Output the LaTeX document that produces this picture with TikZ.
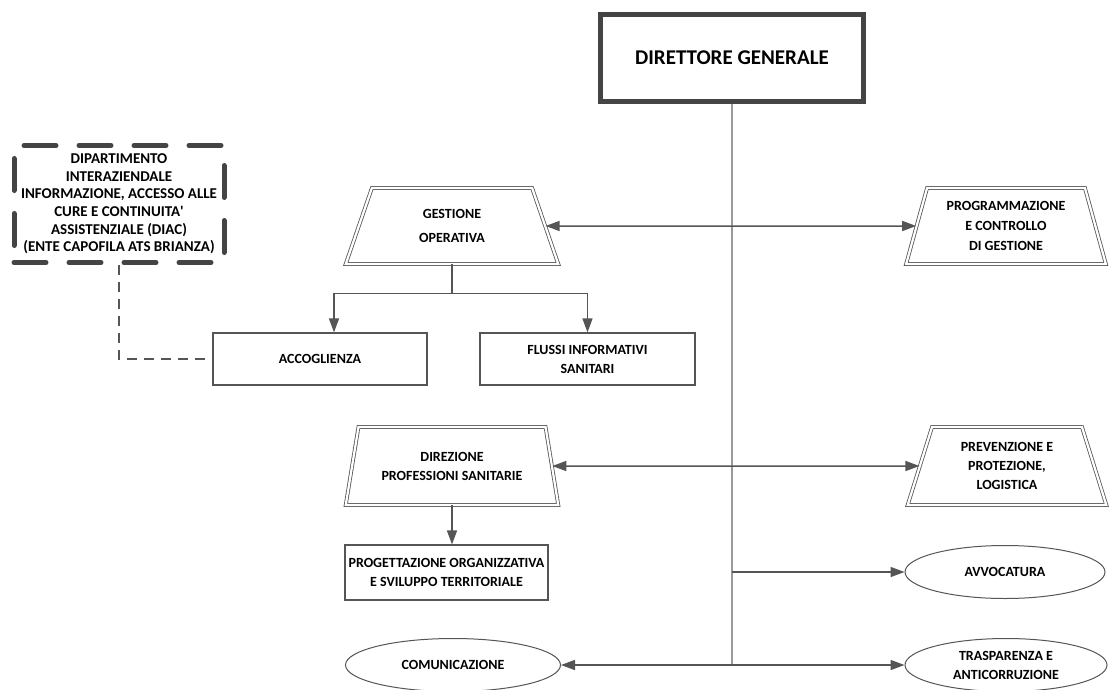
\documentclass[tikz,border=0pt]{standalone}
\usepackage{fontspec}
\setmainfont{Carlito}
\usepackage{tikz}
\usetikzlibrary{positioning}
\usetikzlibrary{arrows.meta}
\usetikzlibrary{shapes.geometric}
\usepackage{xcolor}
\definecolor{linegray}{HTML}{555555}
\definecolor{trunkgray}{HTML}{9A9A9A}
\definecolor{boxgray}{HTML}{444444}

\begin{document}
\begin{tikzpicture}[x=1pt, y=-1pt, every node/.style={font=\fontsize{14}{19}\selectfont\bfseries, align=center, inner sep=2pt}]
\tikzstyle{unit}=[draw=linegray, line width=1.2pt]
\tikzstyle{staff}=[trapezium, trapezium angle=73, trapezium stretches=true, draw=linegray, line width=0.8pt, double=white, double distance=2.2pt, minimum height=76pt]
\tikzstyle{office}=[ellipse, draw=linegray, line width=1pt, minimum height=53pt]
\tikzstyle{link}=[draw=linegray, line width=1.5pt, -{Triangle[length=14pt,width=10pt]}]
\tikzstyle{both}=[draw=linegray, line width=1.5pt, {Triangle[length=14pt,width=10pt]}-{Triangle[length=14pt,width=10pt]}]
\useasboundingbox (0,0) rectangle (1109,689);

\node[draw=boxgray, line width=5pt, minimum width=263pt, minimum height=87pt, font=\fontsize{21}{25}\selectfont\bfseries] (dg) at (732,58) {DIRETTORE GENERALE};
\node[draw=boxgray, line width=5pt, line cap=round, dash pattern=on 32pt off 23pt, minimum width=210pt, minimum height=117pt, inner sep=0pt, font=\fontsize{15}{17.6}\selectfont\bfseries] (diac) at (119,204)
  {DIPARTIMENTO\\INTERAZIENDALE\\INFORMAZIONE, ACCESSO ALLE\\CURE E CONTINUITA\textquotesingle\\ASSISTENZIALE (DIAC)\\(ENTE CAPOFILA ATS BRIANZA)};

\node[staff, minimum width=213pt] (gestop) at (452,226) {GESTIONE\\[5pt]OPERATIVA};
\node[staff, minimum width=200pt] (progctl) at (1006,226) {PROGRAMMAZIONE\\[1pt]E CONTROLLO\\[1pt]DI GESTIONE};
\node[unit, minimum width=214pt, minimum height=52pt] (accog) at (320,359) {ACCOGLIENZA};
\node[unit, minimum width=215pt, minimum height=52pt] (flussi) at (587.5,359) {FLUSSI INFORMATIVI\\SANITARI};
\node[staff, minimum width=213pt, minimum height=78pt] (dirprof) at (452,466) {DIREZIONE\\PROFESSIONI SANITARIE};
\node[staff, minimum width=199pt, minimum height=78pt] (prevlog) at (1007,466) {PREVENZIONE E\\PROTEZIONE,\\LOGISTICA};
\node[unit, minimum width=203pt, minimum height=55pt] (progorg) at (446.5,572.5) {PROGETTAZIONE ORGANIZZATIVA\\E SVILUPPO TERRITORIALE};
\node[office, minimum width=200pt] (avv) at (1005,572) {AVVOCATURA};
\node[office, minimum width=215pt] (comun) at (453,665) {COMUNICAZIONE};
\node[office, minimum width=202pt] (trasp) at (1006,665) {TRASPARENZA E\\ANTICORRUZIONE};

\draw[draw=trunkgray, line width=1.8pt] (dg.south) -- (dg.south |- comun.east);
\draw[both] (gestop.east) -- (progctl.west);
\draw[link] (gestop.south) -- ++(0,29) -| ([xshift=14pt]accog.north);
\draw[link] (gestop.south) ++(0,29) -| (flussi.north);
\draw[draw=linegray, line width=1.3pt, dash pattern=on 10pt off 7pt] (diac.south) |- (accog.west);
\draw[both] (dirprof.east) -- (prevlog.west);
\draw[link] (dirprof.south) -- (dirprof.south |- progorg.north);
\draw[link] (dg.south |- avv.west) -- (avv.west);
\draw[both] (comun.east) -- (trasp.west);
\end{tikzpicture}
\end{document}
